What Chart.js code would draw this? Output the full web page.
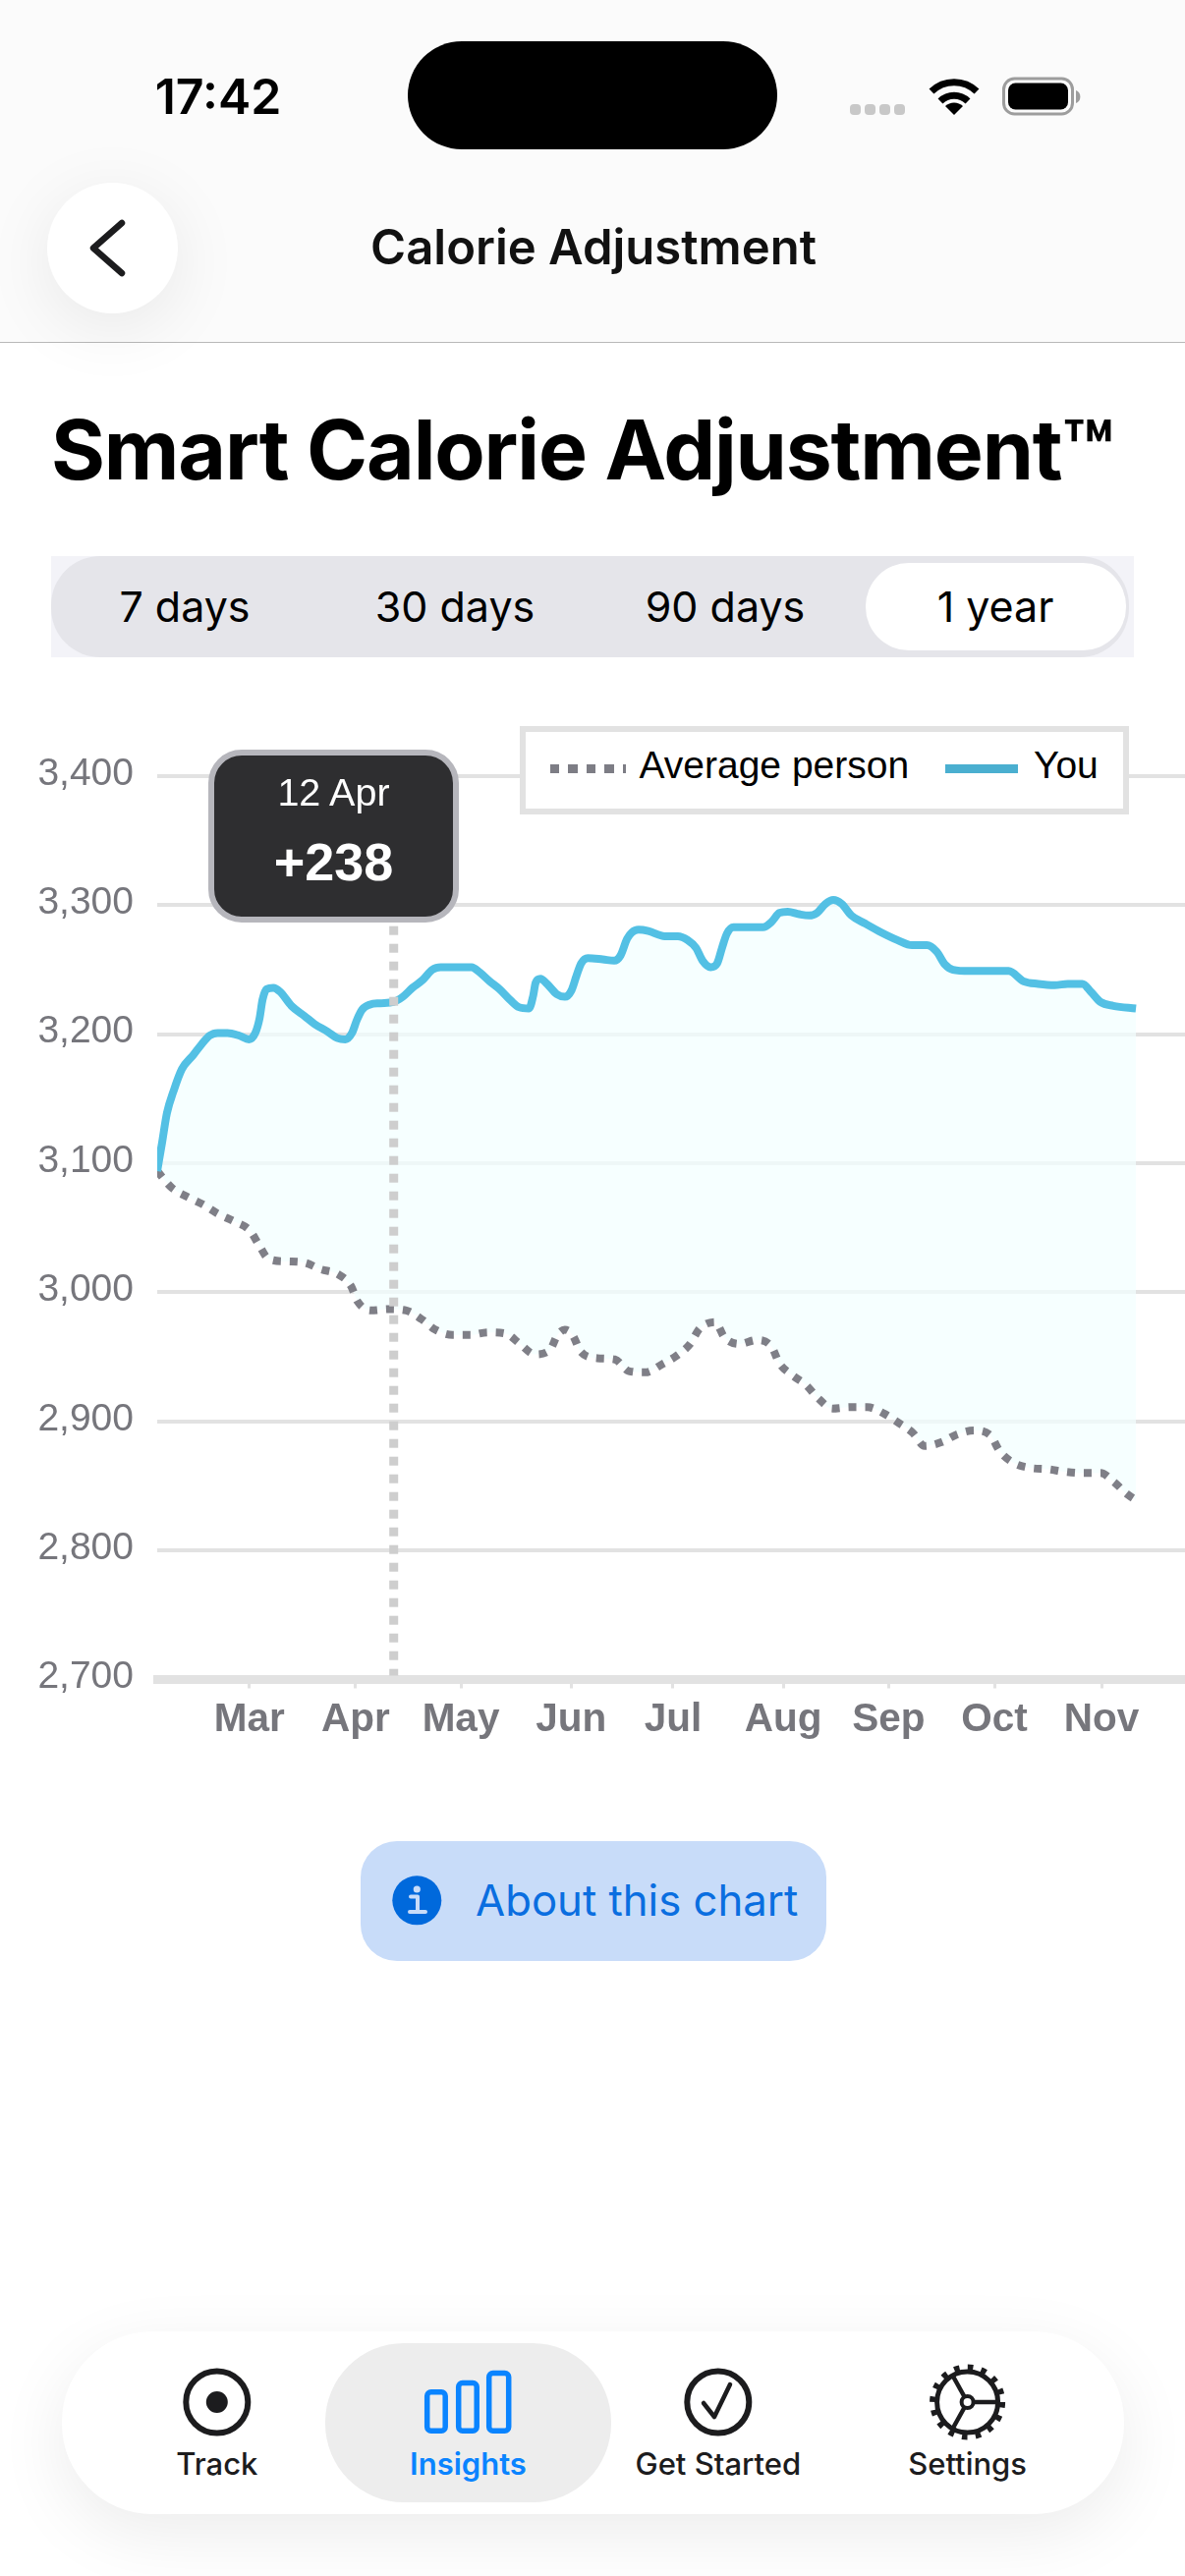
<!DOCTYPE html>
<html>
<head>
<meta charset="utf-8">
<title>Calorie Adjustment</title>
<script src="https://cdn.jsdelivr.net/npm/chart.js@4"></script>
<style>
  html, body { margin: 0; width: 1206px; height: 2622px; overflow: hidden; background: #fff; }
  body { position: relative; font-family: "Inter", sans-serif; color: #000; }
  .abs { position: absolute; line-height: 1; white-space: nowrap; }
  .mid { transform: translateX(-50%); }
  #header { left: 0; top: 0; width: 1206px; height: 348px; background: #fbfbfb; border-bottom: 1px solid #b8b8b8; }
  #island { left: 415px; top: 41.5px; width: 376px; height: 110.5px; border-radius: 56px; background: #000; }
  #back { left: 48px; top: 186px; width: 133px; height: 133px; border-radius: 50%; background: #fff; box-shadow: 0 14px 70px rgba(0,0,0,.08); }
  #segment { left: 52px; top: 566px; width: 1102px; height: 103px; background: #f3f3f8; }
  #segmentPill { left: 52px; top: 566px; width: 1097px; height: 103px; border-radius: 50px; background: #e5e5ea; }
  #segmentOn { left: 881px; top: 573px; width: 265px; height: 89px; border-radius: 44px; background: #fff; }
  #chart { position: absolute; left: 0; top: 730px; }
  #legend { left: 529px; top: 739px; width: 619.5px; height: 90px; box-sizing: border-box; border: 6px solid #e2e2e2; background: #fff; }
  .legendText { font-family: "Liberation Sans", sans-serif; font-size: 39px; }
  #tip { left: 212px; top: 763.3px; width: 255px; height: 176px; box-sizing: border-box; border: 6px solid #b6b6bc; border-radius: 34px; background: #2e2e30; color: #fff; font-family: "Liberation Sans", sans-serif; text-align: center; }
  #tipDate { position: absolute; left: 0; width: 243px; top: 17.3px; font-size: 39.5px; line-height: 1; }
  #tipDelta { position: absolute; left: 0; width: 243px; top: 80.7px; font-size: 54px; line-height: 1; font-weight: 700; }
  #about { left: 367px; top: 1874px; width: 474px; height: 121.7px; border-radius: 37px; background: #c8dcf9; }
  #bar { left: 63px; top: 2372.7px; width: 1081px; height: 186px; border-radius: 92px; background: #fff; box-shadow: 0 20px 70px rgba(0,0,0,.08); }
  #barOn { left: 331px; top: 2385px; width: 290.5px; height: 161.7px; border-radius: 80px; background: #ededed; }
  .tab { top: 2492px; font-size: 31px; font-weight: 500; color: #1c1c1e; }
  svg { position: absolute; left: 0; top: 0; }
</style>
</head>
<body>
<div class="abs" id="header"></div>
<div class="abs" id="island"></div>
<div class="abs" id="back"></div>
<div class="abs" style="left:157.7px;top:72.8px;font-size:50px;font-weight:600">17:42</div>
<div class="abs mid" style="left:604px;top:226.7px;font-size:49px;font-weight:600;color:#111">Calorie Adjustment</div>
<div class="abs" style="left:52px;top:416.4px;font-size:84px;font-weight:700;letter-spacing:-1.15px">Smart Calorie Adjustment™</div>

<div class="abs" id="segment"></div>
<div class="abs" id="segmentPill"></div>
<div class="abs" id="segmentOn"></div>
<div class="abs mid" style="left:188px;top:596px;font-size:43px">7 days</div>
<div class="abs mid" style="left:463px;top:596px;font-size:43px">30 days</div>
<div class="abs mid" style="left:738px;top:596px;font-size:43px">90 days</div>
<div class="abs mid" style="left:1013px;top:596px;font-size:43px">1 year</div>

<canvas id="chart" width="1206" height="1100"></canvas>

<div class="abs" id="legend"></div>
<div class="abs" id="avgSample" style="left:560px;top:777.5px;width:77px;height:9px;background:repeating-linear-gradient(90deg,#7d7d85 0 9px,transparent 9px 18.5px)"></div>
<div class="abs legendText" id="avgName" style="left:650.5px;top:758.7px"></div>
<div class="abs" style="left:961.5px;top:777.5px;width:74.5px;height:9px;background:#4aafd0"></div>
<div class="abs legendText" id="youName" style="left:1052px;top:758.7px"></div>

<div class="abs" id="tip"><div id="tipDate"></div><div id="tipDelta"></div></div>

<div class="abs" id="about"></div>
<div class="abs" style="left:484px;top:1913px;font-size:43.7px;color:#0a6ee0">About this chart</div>

<div class="abs" id="bar"></div>
<div class="abs" id="barOn"></div>
<div class="abs mid tab" style="left:220.8px">Track</div>
<div class="abs mid tab" style="left:476.5px;color:#0a84ff;font-weight:600">Insights</div>
<div class="abs mid tab" style="left:730.8px">Get Started</div>
<div class="abs mid tab" style="left:984.6px">Settings</div>

<svg width="1206" height="2622" viewBox="0 0 1206 2622" fill="none">
  <!-- status bar -->
  <g fill="#c8c8c8">
    <rect x="865" y="106" width="11" height="11" rx="4"/><rect x="880" y="106" width="11" height="11" rx="4"/>
    <rect x="895" y="106" width="11" height="11" rx="4"/><rect x="910" y="106" width="11" height="11" rx="4"/>
  </g>
  <g stroke="#000" stroke-width="7">
    <path d="M948 93 A33 33 0 0 1 994 93"/>
    <path d="M957 103 A20 20 0 0 1 985 103"/>
  </g>
  <path d="M962 108 A13 13 0 0 1 980 108 L971 117 Z" fill="#000"/>
  <rect x="1021.5" y="80" width="70" height="36" rx="11" stroke="#9d9d9d" stroke-width="3"/>
  <rect x="1026" y="84.5" width="61" height="27" rx="7.5" fill="#000"/>
  <path d="M1095 92 a7 7 0 0 1 0 13 Z" fill="#9d9d9d"/>
  <!-- back chevron -->
  <path d="M124 227 L95 252.5 L124 278" stroke="#1c1c1e" stroke-width="6.5" stroke-linecap="round" stroke-linejoin="round"/>
  <!-- about icon -->
  <circle cx="424.3" cy="1934.3" r="25" fill="#0069dc"/>
  <circle cx="424.3" cy="1923" r="3.6" fill="#c8dcf9"/>
  <path d="M418 1930.5 H425 V1946 M417 1946 H433" stroke="#c8dcf9" stroke-width="4" stroke-linecap="round" stroke-linejoin="round"/>
  <!-- tab icons -->
  <circle cx="220.8" cy="2445" r="31.5" stroke="#1c1c1e" stroke-width="6"/>
  <circle cx="220.8" cy="2445" r="11" fill="#1c1c1e"/>
  <g stroke="#0a84ff" stroke-width="5.5">
    <rect x="434.7" y="2434.7" width="18.5" height="39.5" rx="4"/>
    <rect x="466.7" y="2425.5" width="18.5" height="48.7" rx="4"/>
    <rect x="497.7" y="2415.5" width="20" height="58.7" rx="4"/>
  </g>
  <circle cx="730.8" cy="2445" r="31.5" stroke="#1c1c1e" stroke-width="6"/>
  <path d="M716 2446 L727 2460 L743 2427" stroke="#1c1c1e" stroke-width="4.5" stroke-linecap="round" stroke-linejoin="round"/>
  <circle cx="984.6" cy="2445" r="31" stroke="#1c1c1e" stroke-width="5"/>
  <circle cx="984.6" cy="2445" r="35" stroke="#1c1c1e" stroke-width="7" stroke-dasharray="5.5 8.24"/>
  <circle cx="984.6" cy="2445" r="6" stroke="#1c1c1e" stroke-width="4"/>
  <path d="M991 2445 H1016 M981.5 2439.5 L969 2417 M981.5 2450.5 L969 2473" stroke="#1c1c1e" stroke-width="4.5"/>
</svg>

<script>
const seriesNames = ["You", "Average person"];
const months = ["Mar", "Apr", "May", "Jun", "Jul", "Aug", "Sep", "Oct", "Nov"];
// days counted from the first reading in the chart
const monthTicks = [26.5, 57, 87.3, 119, 148.3, 180, 210.3, 240.7, 271.5];
const yTicks = [2700, 2800, 2900, 3000, 3100, 3200, 3300, 3400];

const youDays = [
  0, 1.4, 2.8, 4.7, 7.1, 10.4, 12.7, 15.1, 17.4, 20.2, 23.5, 26.4, 28.2, 29.4, 30.3, 31.5,
  33.4, 35.3, 38.6, 42.4, 45.2, 49, 51.8, 54.1, 56, 57.4, 58.9, 61.2, 64, 67.9, 70.6, 73.4,
  76.3, 79.1, 81.5, 86.6, 90.4, 92.7, 95.6, 98.4, 101.7, 104, 106.9, 108.1, 108.8, 110.2,
  112.1, 114.9, 117.2, 119.1, 120.5, 121.9, 123.8, 128.1, 131.4, 133.2, 135.1, 136.5, 138.4,
  141.2, 145.9, 149.7, 152.5, 154.9, 156.8, 159.1, 161, 162.4, 163.8, 165.7, 170.4, 174.2,
  176.6, 178.9, 181.3, 184.6, 187.4, 189.7, 192.1, 194.4, 196.8, 199.6, 203.4, 208.1, 212.8,
  217, 221.3, 224.1, 226.5, 228.8, 233.5, 240.1, 244.8, 249.1, 253.3, 258, 261.8, 266, 268.4,
  271.2, 274.9, 281.4,
];
const youCalories = [
  3094, 3116, 3139, 3156, 3173, 3184, 3192, 3199, 3201, 3201, 3199, 3196, 3201, 3212, 3227, 3235,
  3236, 3233, 3222, 3214, 3208, 3202, 3197, 3196, 3201, 3211, 3219, 3223, 3224, 3225, 3229, 3236,
  3242, 3250, 3252, 3252, 3252, 3248, 3241, 3235, 3226, 3221, 3220, 3230, 3240, 3243,
  3239, 3231, 3229, 3234, 3245, 3255, 3259, 3258, 3257, 3261, 3274, 3279, 3281,
  3280, 3276, 3276, 3273, 3267, 3257, 3252, 3255, 3267, 3278, 3283, 3283, 3283,
  3287, 3294, 3295, 3293, 3292, 3294, 3301, 3304, 3301, 3292, 3286, 3279, 3273,
  3269, 3269, 3264, 3254, 3250, 3249, 3249, 3249, 3241, 3239, 3238, 3239, 3239, 3233,
  3225, 3222, 3220,
];
const averageDays = [
  0, 4.2, 8.7, 13.2, 17.4, 22.1, 26.6, 29.2, 32, 37.2, 42.4, 46.9, 52, 55.7, 57.6, 61.4, 66.6,
  71.6, 76.1, 80, 84.9, 90.1, 95.1, 100.2, 104.3, 108.5, 112.8, 115.1, 117.2, 119.4, 121.8,
  126.5, 131.6, 135.6, 140.3, 145, 149.4, 153.2, 156, 160.4, 163.1, 167.4, 172.3, 176.6, 178.9,
  182.5, 186.6, 190, 194.1, 199.2, 204.2, 209, 213.1, 217.3, 220.6, 225.6, 230, 234.9, 239.6,
  242.2, 246.1, 250.9, 256, 260.9, 266.1, 271.2, 275.1, 278.7, 281.4,
];
const averageCalories = [
  3094, 3081, 3074, 3068, 3061, 3055, 3048, 3037, 3026, 3024, 3023, 3018, 3014, 3005, 2993, 2986, 2987,
  2986, 2979, 2971, 2967, 2967, 2969, 2968, 2960, 2952, 2955, 2967, 2971, 2967, 2954,
  2949, 2948, 2939, 2938, 2944, 2951, 2960, 2972, 2977, 2965, 2960, 2963, 2958, 2945,
  2936, 2928, 2918, 2910, 2911, 2911, 2906, 2899, 2891, 2881, 2884, 2890, 2893, 2889,
  2877, 2868, 2864, 2863, 2861, 2860, 2860, 2853, 2844, 2839,
];
const selectedDay = 68;
const selectedDate = "12 Apr";
const selectedDelta = "+238";

const gridColor = "#e2e2e2";
const tickColor = "#76767c";

document.getElementById("youName").textContent = seriesNames[0];
document.getElementById("avgName").textContent = seriesNames[1];
document.getElementById("tipDate").textContent = selectedDate;
document.getElementById("tipDelta").textContent = selectedDelta;

const toPoints = (days, values) => days.map((day, i) => ({ x: day, y: values[i] }));

// the dotted line under the tooltip
const crosshair = {
  id: "crosshair",
  afterDatasetsDraw(chart) {
    const { ctx, scales } = chart;
    const x = scales.x.getPixelForValue(selectedDay);
    ctx.save();
    ctx.strokeStyle = "#cecece";
    ctx.lineWidth = 9;
    ctx.setLineDash([9, 9]);
    ctx.beginPath();
    ctx.moveTo(x, 212.7);
    ctx.lineTo(x, chart.chartArea.bottom - 4);
    ctx.stroke();
    ctx.restore();
  },
};

new Chart(document.getElementById("chart"), {
  type: "line",
  data: {
    datasets: [
      {
        label: seriesNames[0],
        data: toPoints(youDays, youCalories),
        borderColor: "#53c0e4",
        borderWidth: 8,
        pointRadius: 0,
        cubicInterpolationMode: "monotone",
        fill: { target: 1, above: "rgba(243,255,255,0.73)", below: "rgba(243,255,255,0.73)" },
      },
      {
        label: seriesNames[1],
        data: toPoints(averageDays, averageCalories),
        borderColor: "#7f7f87",
        borderWidth: 8,
        borderDash: [8, 9],
        pointRadius: 0,
        cubicInterpolationMode: "monotone",
        fill: false,
      },
    ],
  },
  plugins: [crosshair],
  options: {
    responsive: false,
    animation: false,
    devicePixelRatio: 1,
    layout: { padding: { top: 60, bottom: 50.5, left: 0, right: 0 } },
    plugins: {
      legend: { display: false },
      tooltip: { enabled: false },
      filler: { drawTime: "beforeDatasetsDraw" },
    },
    scales: {
      x: {
        type: "linear",
        min: 0,
        max: 295.5,
        afterBuildTicks: (scale) => {
          scale.ticks = monthTicks.map((value) => ({ value }));
        },
        afterFit: (scale) => {
          scale.height = 70;
          scale.paddingLeft = 0;
          scale.paddingRight = 0;
        },
        grid: { drawOnChartArea: false, tickLength: 9, tickWidth: 3, tickColor: gridColor },
        border: { color: gridColor, width: 9 },
        ticks: {
          autoSkip: false,
          maxRotation: 0,
          padding: 8,
          color: tickColor,
          font: { family: "Liberation Sans", size: 40.5, weight: "bold" },
          callback: (value, index) => months[index],
        },
      },
      y: {
        min: yTicks[0],
        max: yTicks[yTicks.length - 1],
        afterBuildTicks: (scale) => {
          scale.ticks = yTicks.map((value) => ({ value }));
        },
        afterFit: (scale) => {
          scale.width = 160;
          scale.paddingTop = 0;
          scale.paddingBottom = 0;
        },
        grid: { drawTicks: false, color: gridColor, lineWidth: 4 },
        border: { display: false },
        ticks: {
          padding: 24,
          labelOffset: -2,
          color: tickColor,
          font: { family: "Liberation Sans", size: 39 },
          callback: (value) => value.toLocaleString("en-US"),
        },
      },
    },
  },
});
</script>
</body>
</html>
